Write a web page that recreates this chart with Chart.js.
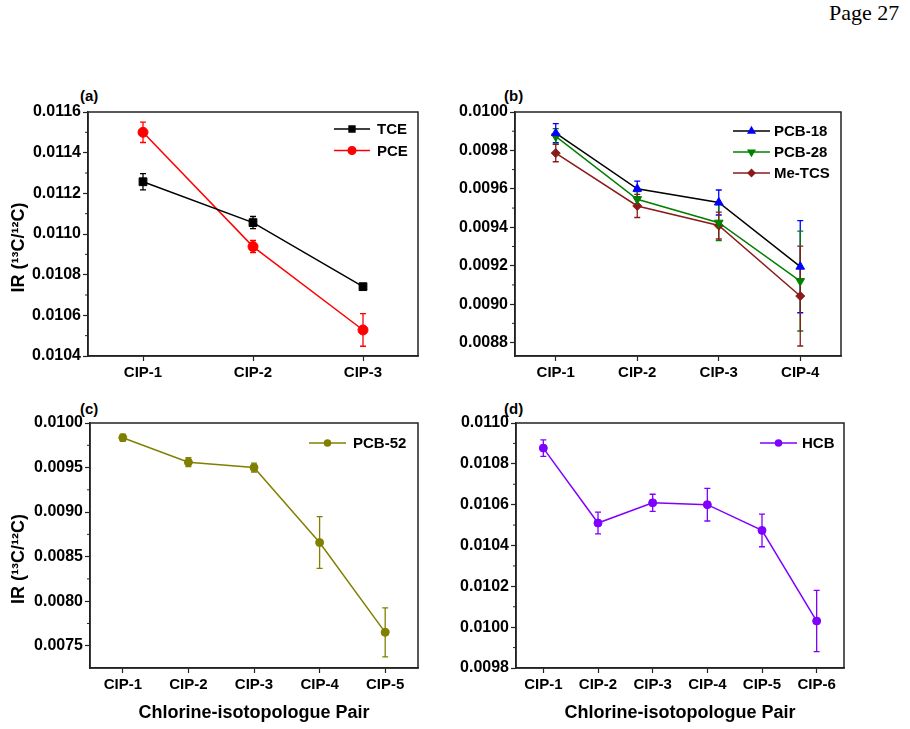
<!DOCTYPE html>
<html>
<head>
<meta charset="utf-8">
<title>Isotope ratio by chlorine-isotopologue pair</title>
<script src="https://cdn.jsdelivr.net/npm/chart.js@4.4.0/dist/chart.umd.min.js"></script>
<style>
  body { margin: 0; background: #fff; width: 910px; height: 729px; position: relative; overflow: hidden; }
  canvas { position: absolute; }
  .panel { position: absolute; font: bold 15px "Liberation Sans", Arial, sans-serif; color: #000; }
  .page { position: absolute; left: 829px; top: 0px; font: 22px "Liberation Serif", "Times New Roman", serif; }
</style>
</head>
<body>
<div class="page">Page 27</div>
<div class="panel" style="left:80px;top:87px">(a)</div>
<div class="panel" style="left:504px;top:87px">(b)</div>
<div class="panel" style="left:80px;top:400px">(c)</div>
<div class="panel" style="left:504px;top:400px">(d)</div>

<canvas id="chartA" width="455" height="310" style="left:0px;top:80px"></canvas>
<canvas id="chartB" width="455" height="310" style="left:455px;top:80px"></canvas>
<canvas id="chartC" width="455" height="349" style="left:0px;top:380px"></canvas>
<canvas id="chartD" width="455" height="349" style="left:455px;top:380px"></canvas>

<script>
// ---- data ----
var catsA = ["CIP-1", "CIP-2", "CIP-3"];
var tceIR = [0.011257, 0.011056, 0.010741];
var tceErr = [0.00004, 0.00003, 0.00001];
var pceIR = [0.01150, 0.010938, 0.010528];
var pceErr = [0.00005, 0.00003, 0.00008];
var ticksA = [0.0104, 0.0106, 0.0108, 0.0110, 0.0112, 0.0114, 0.0116];

var catsB = ["CIP-1", "CIP-2", "CIP-3", "CIP-4"];
var pcb18IR = [0.00989, 0.00960, 0.009529, 0.009195];
var pcb18Err = [0.00005, 0.00004, 0.000065, 0.00024];
var pcb28IR = [0.009873, 0.009546, 0.009424, 0.00912];
var pcb28Err = [0.00004, 0.00004, 0.000094, 0.00026];
var metcsIR = [0.009786, 0.009511, 0.009409, 0.009042];
var metcsErr = [0.000045, 0.00006, 0.00007, 0.00026];
var ticksB = [0.0088, 0.0090, 0.0092, 0.0094, 0.0096, 0.0098, 0.0100];

var catsC = ["CIP-1", "CIP-2", "CIP-3", "CIP-4", "CIP-5"];
var pcb52IR = [0.009835, 0.00956, 0.0095, 0.008658, 0.00765];
var pcb52Err = [0.00004, 0.00005, 0.00005, 0.00029, 0.000275];
var ticksC = [0.0075, 0.0080, 0.0085, 0.0090, 0.0095, 0.0100];

var catsD = ["CIP-1", "CIP-2", "CIP-3", "CIP-4", "CIP-5", "CIP-6"];
var hcbIR = [0.010877, 0.01051, 0.010609, 0.0106, 0.010474, 0.01003];
var hcbErr = [0.00004, 0.000053, 0.000042, 0.00008, 0.00008, 0.00015];
var ticksD = [0.0098, 0.0100, 0.0102, 0.0104, 0.0106, 0.0108, 0.0110];

var yTitle = "IR (\u00b9\u00b3C/\u00b9\u00b2C)\u2002\u2002\u2002";
var xTitle = "Chlorine-isotopologue Pair";

var FONT = '"Liberation Sans", Arial, sans-serif';

// error bars, drawn behind the points
var errorBars = {
  id: "errorBars",
  beforeDatasetsDraw: function (chart) {
    var ctx = chart.ctx, ys = chart.scales.y;
    chart.data.datasets.forEach(function (ds, i) {
      if (!ds.errors) return;
      var meta = chart.getDatasetMeta(i);
      ctx.save();
      ctx.strokeStyle = ds.pointBackgroundColor;
      ctx.lineWidth = 1.3;
      meta.data.forEach(function (pt, j) {
        var v = ds.data[j], e = ds.errors[j];
        var yt = ys.getPixelForValue(v + e), yb = ys.getPixelForValue(v - e);
        ctx.beginPath();
        ctx.moveTo(pt.x, yt); ctx.lineTo(pt.x, yb);
        ctx.moveTo(pt.x - 3, yt); ctx.lineTo(pt.x + 3, yt);
        ctx.moveTo(pt.x - 3, yb); ctx.lineTo(pt.x + 3, yb);
        ctx.stroke();
      });
      ctx.restore();
    });
  }
};

// closed frame + minor ticks on the y axis
var frame = {
  id: "frame",
  afterDraw: function (chart) {
    var ctx = chart.ctx, a = chart.chartArea, ys = chart.scales.y;
    ctx.save();
    ctx.strokeStyle = "#222";
    ctx.lineWidth = 1.5;
    ctx.strokeRect(a.left, a.top, a.right - a.left, a.bottom - a.top);
    ctx.lineWidth = 1;
    var t = ys.ticks;
    ctx.beginPath();
    for (var k = 0; k < t.length - 1; k++) {
      var y = ys.getPixelForValue((t[k].value + t[k + 1].value) / 2);
      ctx.moveTo(a.left - 3, y); ctx.lineTo(a.left, y);
    }
    ctx.stroke();
    ctx.restore();
  }
};

// legend: line with marker, then label
var lineLegend = {
  id: "lineLegend",
  afterDraw: function (chart, args, opts) {
    var ctx = chart.ctx, a = chart.chartArea;
    ctx.save();
    chart.data.datasets.forEach(function (ds, i) {
      var x0 = a.right - opts.fromRight, y = a.top + opts.fromTop + i * opts.gap;
      ctx.strokeStyle = ds.borderColor;
      ctx.lineWidth = 1.5;
      ctx.beginPath();
      ctx.moveTo(x0, y); ctx.lineTo(x0 + opts.lineLen, y);
      ctx.stroke();
      ctx.fillStyle = ds.pointBackgroundColor;
      ctx.strokeStyle = ds.pointBackgroundColor;
      Chart.helpers.drawPoint(ctx, {
        pointStyle: ds.pointStyle, rotation: ds.pointRotation || 0,
        radius: ds.pointRadius * 0.75, borderWidth: 1
      }, x0 + opts.lineLen / 2, y);
      ctx.fillStyle = "#000";
      ctx.font = "bold 15px " + FONT;
      ctx.textBaseline = "middle";
      ctx.textAlign = "left";
      ctx.fillText(ds.label, x0 + opts.lineLen + opts.textGap, y + 1);
    });
    ctx.restore();
  }
};

function series(label, data, errs, line, marker, style, radius, rot) {
  return {
    label: label, data: data, errors: errs,
    borderColor: line, borderWidth: 1.5, tension: 0,
    pointBackgroundColor: marker, pointBorderColor: marker,
    pointStyle: style, pointRadius: radius, pointRotation: rot || 0,
    pointBorderWidth: 1, clip: false
  };
}

function makeChart(id, cats, sets, yTicks, box, legendOpts, showYTitle, showXTitle) {
  var ctx = document.getElementById(id).getContext("2d");
  return new Chart(ctx, {
    type: "line",
    data: { labels: cats, datasets: sets },
    options: {
      responsive: false,
      animation: false,
      events: [],
      layout: { padding: { top: box.top, right: box.right, left: 0, bottom: 0 } },
      plugins: {
        legend: { display: false },
        tooltip: { enabled: false },
        lineLegend: legendOpts
      },
      scales: {
        x: {
          type: "category",
          offset: true,
          grid: { offset: false, drawOnChartArea: false, drawTicks: true, tickLength: 5, tickColor: "#222", tickWidth: 1.2 },
          border: { display: true, color: "#222", width: 1.5 },
          ticks: { color: "#000", font: { family: FONT, size: 15, weight: "bold" }, padding: 3, maxRotation: 0, autoSkip: false },
          title: { display: showXTitle, text: xTitle, color: "#000", font: { family: FONT, size: 18, weight: "bold" }, padding: { top: 0, bottom: 5 } },
          afterFit: function (s) { s.height = box.bottom; }
        },
        y: {
          type: "linear",
          min: yTicks[0] - box.yBelow,
          max: yTicks[yTicks.length - 1],
          grid: { drawOnChartArea: false, drawTicks: true, tickLength: 5, tickColor: "#222", tickWidth: 1.2 },
          border: { display: true, color: "#222", width: 1.5 },
          ticks: {
            color: "#000", font: { family: FONT, size: 16, weight: "bold" }, padding: 2,
            callback: function (v) { return Number(v).toFixed(4); }
          },
          afterBuildTicks: function (s) { s.ticks = yTicks.map(function (v) { return { value: v }; }); },
          title: { display: showYTitle, text: yTitle, color: "#000", font: { family: FONT, size: 18, weight: "bold" }, padding: { top: 8, bottom: 0 } },
          afterFit: function (s) { s.width = box.left; }
        }
      }
    },
    plugins: [errorBars, frame, lineLegend]
  });
}

makeChart("chartA", catsA, [
  series("TCE", tceIR, tceErr, "#000000", "#000000", "rect", 5.5),
  series("PCE", pceIR, pceErr, "#ff0000", "#ff0000", "circle", 5)
], ticksA, { left: 88, top: 32, right: 37, bottom: 34, yBelow: 0 },
  { fromRight: 84, fromTop: 17, gap: 21.5, lineLen: 36, textGap: 7 }, true, false);

makeChart("chartB", catsB, [
  series("PCB-18", pcb18IR, pcb18Err, "#000000", "#0000ff", "triangle", 5),
  series("PCB-28", pcb28IR, pcb28Err, "#008000", "#008000", "triangle", 5, 180),
  series("Me-TCS", metcsIR, metcsErr, "#8b1a1a", "#8b1a1a", "rectRot", 4.5)
], ticksB, { left: 60, top: 32, right: 69, bottom: 34, yBelow: 0.00007 },
  { fromRight: 108, fromTop: 19, gap: 21, lineLen: 37, textGap: 4 }, false, false);

makeChart("chartC", catsC, [
  series("PCB-52", pcb52IR, pcb52Err, "#808000", "#808000", "circle", 4)
], ticksC, { left: 90, top: 43, right: 37, bottom: 61, yBelow: 0.00025 },
  { fromRight: 109, fromTop: 20, gap: 21, lineLen: 37, textGap: 7 }, true, true);

makeChart("chartD", catsD, [
  series("HCB", hcbIR, hcbErr, "#8000ff", "#8000ff", "circle", 4)
], ticksD, { left: 61, top: 43, right: 66, bottom: 61, yBelow: 0 },
  { fromRight: 84, fromTop: 20, gap: 21, lineLen: 37, textGap: 5 }, false, true);
</script>
</body>
</html>
